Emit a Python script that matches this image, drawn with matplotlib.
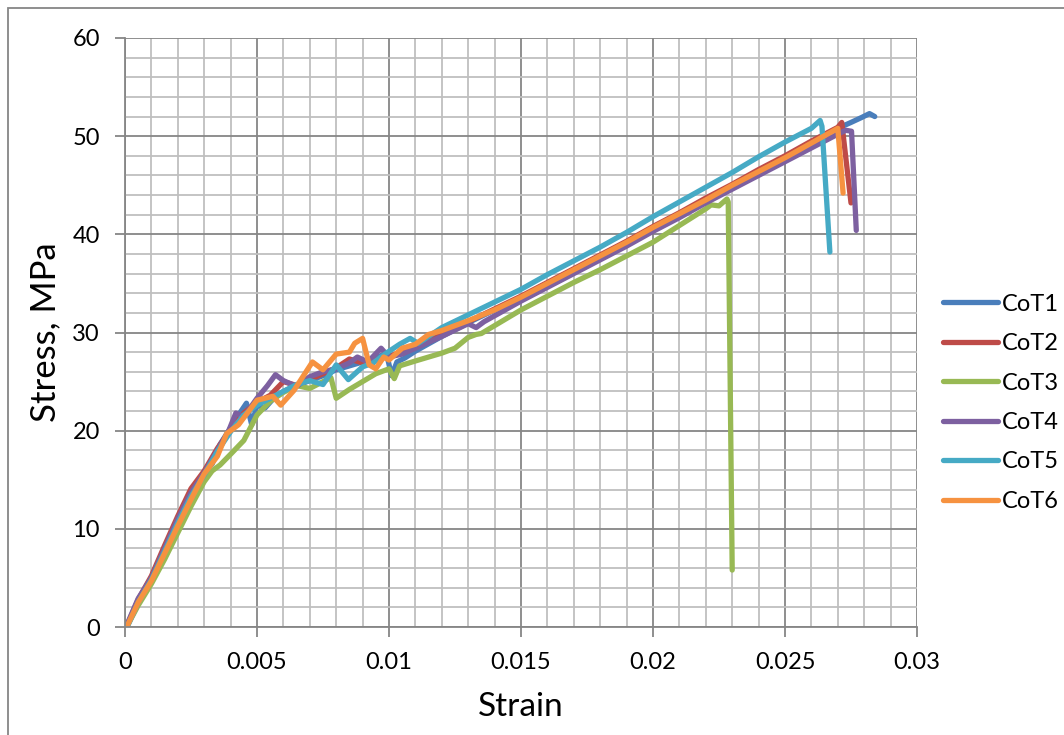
import matplotlib
matplotlib.use("Agg")
import matplotlib.pyplot as plt
from matplotlib.ticker import MultipleLocator
from matplotlib.patches import Rectangle

plt.rcParams['font.family'] = ['Lato', 'DejaVu Sans']

# data (strain, stress MPa)
cot1_strain = [0.0001, 0.0005, 0.001, 0.0015, 0.002, 0.0025, 0.003, 0.0033, 0.0036, 0.004, 0.0043,
               0.0046, 0.0048, 0.005, 0.0053, 0.0056, 0.006, 0.0065, 0.007, 0.0075, 0.008, 0.0085,
               0.009, 0.0095, 0.0099, 0.0101, 0.0103, 0.0106, 0.011, 0.012, 0.013, 0.014, 0.015,
               0.016, 0.017, 0.018, 0.019, 0.020, 0.021, 0.022, 0.023, 0.024, 0.025, 0.026, 0.027,
               0.0275, 0.0279, 0.0282, 0.0284]
cot1_stress = [0.3, 2.6, 4.9, 7.7, 10.7, 13.6, 15.8, 16.6, 18.6, 20.3, 21.6,
               22.8, 20.6, 22.6, 22.3, 23.2, 24.0, 24.6, 25.1, 25.6, 26.2, 26.6,
               27.0, 27.4, 27.9, 25.6, 27.0, 27.4, 28.1, 29.6, 31.0, 32.3, 33.6,
               35.0, 36.4, 37.8, 39.2, 40.7, 42.1, 43.6, 45.0, 46.5, 47.9, 49.4, 50.8,
               51.4, 51.9, 52.3, 52.0]

cot2_strain = [0.0001, 0.0005, 0.001, 0.0015, 0.002, 0.0025, 0.003, 0.0035, 0.004, 0.0045,
               0.005, 0.0055, 0.006, 0.0065, 0.007, 0.0075, 0.008, 0.0085, 0.009, 0.0095,
               0.010, 0.0105, 0.011, 0.012, 0.013, 0.014, 0.015, 0.016, 0.017, 0.018,
               0.019, 0.020, 0.021, 0.022, 0.023, 0.024, 0.025, 0.026, 0.027, 0.02715, 0.0275]
cot2_stress = [0.3, 2.8, 5.2, 8.3, 11.3, 14.1, 15.9, 18.2, 20.1, 21.8,
               22.9, 23.6, 25.0, 24.6, 25.2, 25.8, 26.4, 27.3, 26.9, 27.2,
               27.6, 28.0, 28.6, 29.8, 31.1, 32.4, 33.7, 35.1, 36.5, 37.9,
               39.3, 40.8, 42.2, 43.7, 45.1, 46.6, 48.0, 49.5, 50.9, 51.4, 43.2]

cot3_strain = [0.0001, 0.0005, 0.001, 0.0015, 0.002, 0.0025, 0.003, 0.0033, 0.0036, 0.004,
               0.0045, 0.005, 0.0055, 0.006, 0.0065, 0.007, 0.0075, 0.0078, 0.0080, 0.0085,
               0.009, 0.0095, 0.010, 0.0102, 0.0104, 0.011, 0.012, 0.0125, 0.013, 0.0133,
               0.0135, 0.014, 0.015, 0.016, 0.017, 0.018, 0.019, 0.020, 0.021, 0.022,
               0.0222, 0.0225, 0.0228, 0.02285, 0.0230]
cot3_stress = [0.2, 2.2, 4.4, 6.9, 9.6, 12.3, 14.8, 15.9, 16.5, 17.6,
               19.0, 21.6, 23.0, 23.9, 24.6, 24.3, 25.0, 25.4, 23.3, 24.2,
               25.0, 25.8, 26.3, 25.3, 26.6, 27.1, 27.9, 28.4, 29.5, 29.8,
               29.9, 30.7, 32.3, 33.7, 35.1, 36.4, 37.8, 39.2, 40.9, 42.6,
               43.0, 42.9, 43.6, 43.3, 5.8]

cot4_strain = [0.0001, 0.0005, 0.001, 0.0015, 0.002, 0.0025, 0.003, 0.0035, 0.0039, 0.0042,
               0.0045, 0.005, 0.0054, 0.0057, 0.006, 0.0065, 0.007, 0.0075, 0.008, 0.0085,
               0.0088, 0.0092, 0.0097, 0.010, 0.0105, 0.011, 0.012, 0.013, 0.0133, 0.0136,
               0.014, 0.015, 0.016, 0.017, 0.018, 0.019, 0.020, 0.021, 0.022, 0.023,
               0.024, 0.025, 0.026, 0.027, 0.0273, 0.02752, 0.0277]
cot4_stress = [0.4, 2.9, 5.0, 8.0, 11.0, 13.7, 15.7, 18.0, 19.8, 21.8,
               21.4, 23.3, 24.6, 25.7, 25.1, 24.5, 25.5, 26.0, 26.3, 26.9,
               27.5, 27.0, 28.4, 27.5, 27.8, 28.4, 29.6, 30.9, 30.5, 31.1,
               31.7, 33.2, 34.6, 36.0, 37.4, 38.8, 40.3, 41.7, 43.2, 44.6,
               46.0, 47.4, 48.8, 50.2, 50.6, 50.5, 40.4]

cot5_strain = [0.0001, 0.0005, 0.001, 0.0015, 0.002, 0.0025, 0.003, 0.0035, 0.004, 0.0045,
               0.005, 0.0055, 0.006, 0.0065, 0.007, 0.0075, 0.008, 0.00846, 0.009, 0.0094,
               0.0099, 0.0104, 0.0108, 0.0111, 0.0115, 0.012, 0.013, 0.014, 0.015, 0.016,
               0.017, 0.018, 0.019, 0.020, 0.021, 0.022, 0.023, 0.024, 0.025, 0.026,
               0.02633, 0.0264, 0.0267]
cot5_stress = [0.1, 2.5, 4.8, 7.7, 10.6, 13.3, 15.5, 17.9, 19.9, 21.6,
               22.6, 23.3, 24.0, 24.7, 25.1, 24.7, 26.7, 25.2, 26.5, 26.9,
               27.9, 28.8, 29.4, 28.9, 29.6, 30.5, 31.8, 33.1, 34.4, 35.9,
               37.3, 38.7, 40.2, 41.8, 43.3, 44.8, 46.3, 47.9, 49.4, 50.8,
               51.6, 51.0, 38.2]

cot6_strain = [0.0001, 0.0005, 0.001, 0.0015, 0.002, 0.0025, 0.003, 0.0035, 0.00385, 0.0043,
               0.005, 0.0056, 0.0059, 0.0064, 0.0071, 0.0075, 0.008, 0.0085, 0.0087, 0.0090,
               0.00925, 0.0095, 0.0098, 0.010, 0.0105, 0.011, 0.0115, 0.012, 0.013, 0.014,
               0.015, 0.016, 0.017, 0.018, 0.019, 0.020, 0.021, 0.022, 0.023, 0.024,
               0.025, 0.026, 0.0270, 0.0272]
cot6_stress = [0.2, 2.5, 4.7, 7.5, 10.3, 13.0, 15.6, 17.4, 19.7, 20.6,
               23.1, 23.5, 22.6, 24.1, 27.0, 26.2, 27.8, 28.0, 28.9, 29.4,
               26.7, 26.3, 27.5, 27.2, 28.4, 28.8, 29.8, 30.2, 31.2, 32.3,
               33.6, 35.0, 36.4, 37.8, 39.2, 40.7, 42.1, 43.5, 45.0, 46.4,
               47.8, 49.3, 50.8, 44.2]

series = [("CoT1", cot1_strain, cot1_stress, "#4A7EBB"),
          ("CoT2", cot2_strain, cot2_stress, "#BE4B48"),
          ("CoT3", cot3_strain, cot3_stress, "#98B954"),
          ("CoT4", cot4_strain, cot4_stress, "#7D60A0"),
          ("CoT5", cot5_strain, cot5_stress, "#46AAC5"),
          ("CoT6", cot6_strain, cot6_stress, "#F69240")]

fig = plt.figure(figsize=(10.64, 7.35), dpi=100)
ax = fig.add_axes([125/1064, 1-627/735, 792/1064, 589/735])

for name, x, y, c in series:
    ax.plot(x, y, color=c, lw=3.8, label=name, solid_capstyle='round', solid_joinstyle='round')

ax.set_xlim(0, 0.03)
ax.set_ylim(0, 60)
ax.xaxis.set_minor_locator(MultipleLocator(0.001))
ax.yaxis.set_major_locator(MultipleLocator(10))
ax.yaxis.set_minor_locator(MultipleLocator(2))
ax.set_xticks([0, 0.005, 0.01, 0.015, 0.02, 0.025, 0.03])
ax.set_xticklabels(["0", "0.005", "0.01", "0.015", "0.02", "0.025", "0.03"])

ax.grid(which='major', color='#868686', lw=1.3, zorder=0)
ax.grid(which='minor', color='#BFBFBF', lw=1.3, zorder=0)
ax.set_axisbelow(True)

for s in ['top', 'right']:
    ax.spines[s].set_visible(False)
for s in ['left', 'bottom']:
    ax.spines[s].set_color('#868686')
    ax.spines[s].set_linewidth(1.3)

ax.tick_params(which='major', direction='out', length=7, width=1.3, color='#868686',
               labelsize=17, pad=11)
ax.tick_params(which='minor', length=0)

ax.set_xlabel("Strain", fontsize=24, labelpad=14)
ax.set_ylabel("Stress, MPa", fontsize=25, labelpad=8)

ax.legend(loc='center left', bbox_to_anchor=(0.875, 0.452), bbox_transform=fig.transFigure,
          frameon=False, fontsize=17, handlelength=2.35, labelspacing=0.78,
          handletextpad=0.15, borderpad=0)

# figure border
fig.patches.append(Rectangle((8/1064, -0.2), 1.5, 1-8/735+0.2, transform=fig.transFigure,
                             fill=False, ec='#868686', lw=1.3))

fig.savefig("out.png", dpi=100)
